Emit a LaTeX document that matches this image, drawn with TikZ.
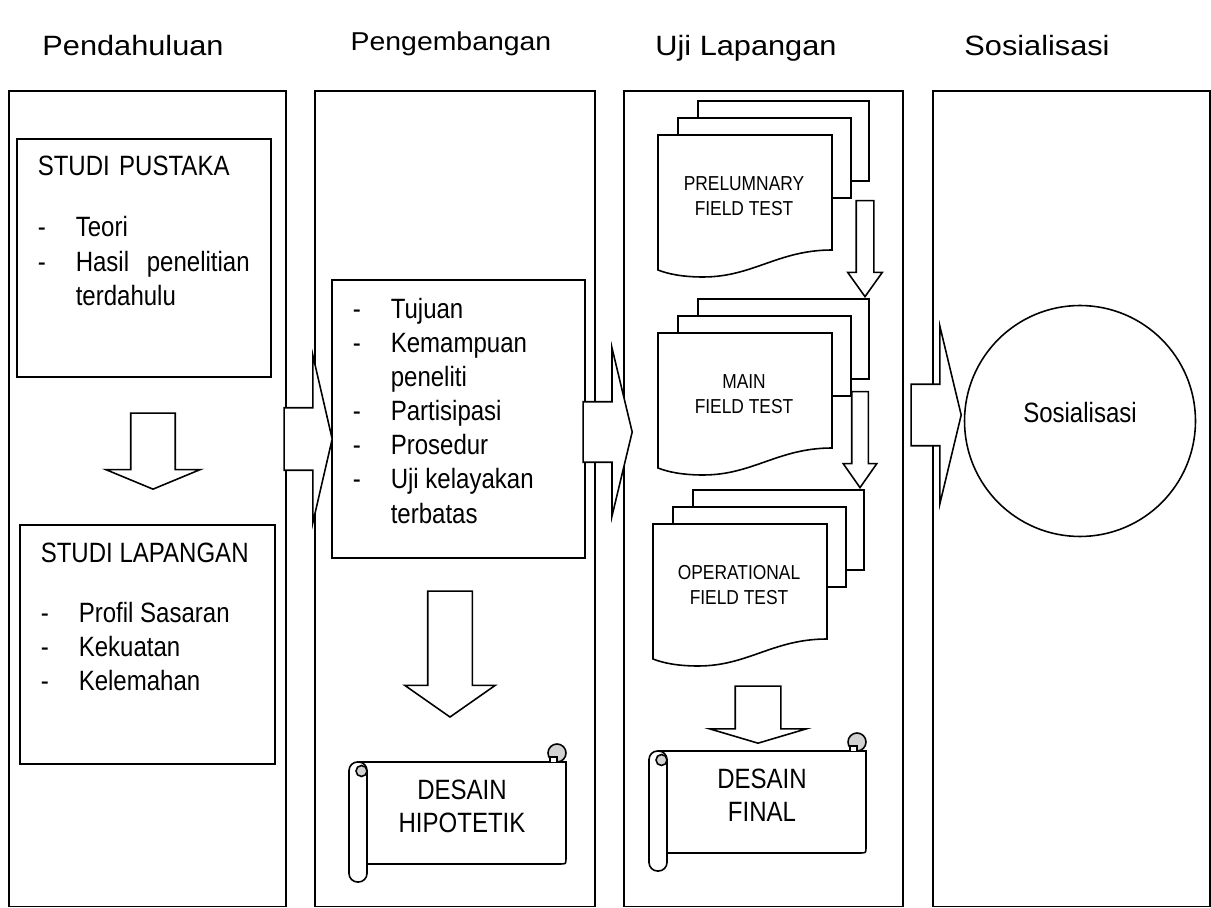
\documentclass[tikz,border=0pt]{standalone}
\usepackage{fontspec}
\setmainfont{Liberation Sans}[FakeStretch=0.86]
\newfontfamily\headfont{Liberation Sans}[FakeStretch=1.1]
\usepackage{tikz}
\usetikzlibrary{shapes,arrows,positioning,calc}
\setlength{\parindent}{0pt}

\newcommand{\dashitem}[1]{\makebox[0.76cm][l]{-}#1}
\newcommand{\dashcont}[1]{\hspace*{0.76cm}#1}

\begin{document}
\begin{tikzpicture}[
    x=0.02cm, y=-0.02cm,
    line width=0.9pt,
    font=\fontsize{15.9}{19.45}\selectfont,
    phase/.style={draw, anchor=north west, minimum height=16.32cm, inner sep=0pt},
    phasetitle/.style={anchor=base, inner sep=0pt, font=\headfont\fontsize{15.9}{19.45}\selectfont},
    listbox/.style={draw, anchor=north west, inner sep=0pt},
    listtext/.style={anchor=north west, align=left, inner sep=0pt},
    bigarrow/.style={single arrow, draw, fill=white, inner sep=0pt, minimum width=0pt, single arrow head indent=0pt, anchor=tip},
    stacktext/.style={align=center, inner sep=0pt, font=\fontsize{11.5}{14.2}\selectfont},
    scrolltext/.style={align=center, inner sep=0pt, font=\fontsize{15.9}{18.7}\selectfont},
    docpage/.style={draw, fill=white},
    pics/docstack/.style={code={
        \draw[docpage] (40,-34) rectangle (211,46);
        \draw[docpage] (20,-17) rectangle (193,63);
        \draw[docpage] (0,0) -- (174,0) -- (174,115) .. controls (120,115) and (95,142) .. (45,142) .. controls (25,142) and (10,139) .. (0,135) -- cycle;
        \node[stacktext] (-label) at (86,61) {#1};
    }},
    pics/hscroll/.style={code={
        \draw[docpage] (9,18) -- (217,18) -- (217,114) .. controls (217,120) .. (211,120) -- (9,120) -- cycle;
        \draw[docpage, fill=gray!35] (208,9) circle[radius=9];
        \draw[docpage] (201,18) -- (201,13) -- (208,13) -- (208,18);
        \draw[docpage, rounded corners=0.17cm] (0,18) rectangle (18,138);
        \draw[docpage, fill=gray!35] (12.5,27) circle[radius=5.5];
        \node[scrolltext] (-label) at (113,62) {#1};
    }}
]
    \useasboundingbox (0,0) rectangle (1211,908);

    % phases
    \node[phase, minimum width=5.54cm] (pend) at (8,90) {};
    \node[phase, minimum width=5.6cm] (peng) at (314,90) {};
    \node[phase, minimum width=5.58cm] (uji) at (623,90) {};
    \node[phase, minimum width=5.54cm] (sosial) at (932,90) {};

    \node[phasetitle] (tpend) at (133,56) {Pendahuluan};
    \node[phasetitle, font=\headfont\fontsize{14.7}{18}\selectfont] (tpeng) at (451,51) {Pengembangan};
    \node[phasetitle] (tuji) at (746,56) {Uji Lapangan};
    \node[phasetitle] (tsos) at (1037,56) {Sosialisasi};

    % pendahuluan
    \node[listbox, minimum width=5.08cm, minimum height=4.76cm] (pustaka) at (16,138) {};
    \node[listtext, text width=4.24cm] (pustakatxt) at (37,155) {STUDI PUSTAKA\\[0.55cm]\dashitem{Teori}\\\dashitem{Hasil\hfill penelitian}\\\dashcont{terdahulu}};
    \node[listbox, minimum width=5.1cm, minimum height=4.78cm] (lapangan) at (19,524) {};
    \node[listtext] (lapangantxt) at (40,542) {STUDI LAPANGAN\\[0.52cm]\dashitem{Profil Sasaran}\\\dashitem{Kekuatan}\\\dashitem{Kelemahan}};

    % pengembangan
    \node[listbox, minimum width=5.06cm, minimum height=5.56cm] (tujuan) at (331,279) {};
    \node[listtext] (tujuantxt) at (352,297) {\dashitem{Tujuan}\\\dashitem{Kemampuan}\\\dashcont{peneliti}\\\dashitem{Partisipasi}\\\dashitem{Prosedur}\\\dashitem{Uji kelayakan}\\\dashcont{terbatas}};
    \pic (hipo) at (349,744) {hscroll={DESAIN\\HIPOTETIK}};

    % uji lapangan
    \pic (prel) at (658,135) {docstack={PRELUMNARY\\FIELD TEST}};
    \pic (main) at (658,333) {docstack={MAIN\\FIELD TEST}};
    \pic (oper) at (653,524) {docstack={OPERATIONAL\\FIELD TEST}};
    \pic (final) at (649,733) {hscroll={DESAIN\\FINAL}};

    % sosialisasi
    \node[draw, circle, minimum size=4.62cm, inner sep=0pt, text depth=0.35cm] (sos) at (1080,421) {Sosialisasi};

    % block arrows
    \node[bigarrow, minimum height=0.96cm, text height=1.22cm, single arrow head extend=1.05cm, single arrow tip angle=154] (ar1) at (333,439) {};
    \node[bigarrow, minimum height=0.98cm, text height=1.18cm, single arrow head extend=1.08cm, single arrow tip angle=153] (ar2) at (633,432) {};
    \node[bigarrow, minimum height=1.0cm, text height=1.2cm, single arrow head extend=1.16cm, single arrow tip angle=153] (ar3) at (962,415) {};
    \node[bigarrow, rotate=-90, minimum height=1.52cm, text height=0.86cm, single arrow head extend=0.5cm, single arrow tip angle=135] (dn1) at (153,490) {};
    \node[bigarrow, rotate=-90, minimum height=2.52cm, text height=0.86cm, single arrow head extend=0.46cm, single arrow tip angle=110] (dn2) at (450,718) {};
    \node[bigarrow, rotate=-90, minimum height=1.14cm, text height=0.88cm, single arrow head extend=0.51cm, single arrow tip angle=147] (dn3) at (758,744) {};
    \node[bigarrow, rotate=-90, minimum height=1.92cm, text height=0.32cm, single arrow head extend=0.17cm, single arrow tip angle=71] (sa) at (865,298) {};
    \node[bigarrow, rotate=-90, minimum height=1.92cm, text height=0.3cm, single arrow head extend=0.17cm, single arrow tip angle=70] (sb) at (860,489) {};
\end{tikzpicture}
\end{document}
